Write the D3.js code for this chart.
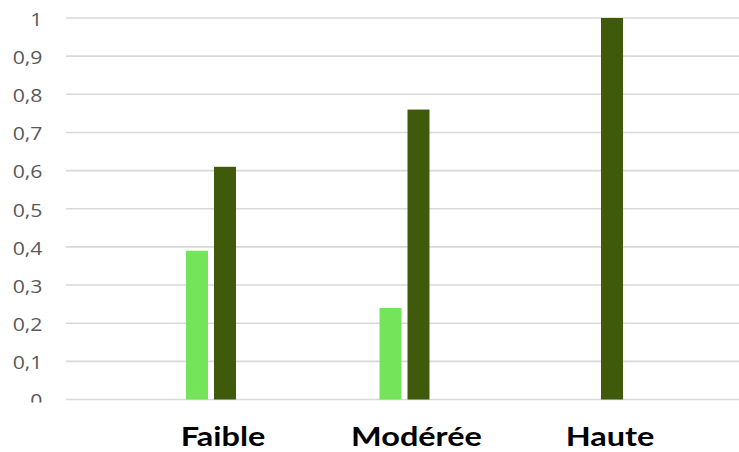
<!DOCTYPE html>
<html>
<head>
<meta charset="utf-8">
<script src="https://cdn.jsdelivr.net/npm/d3@7"></script>
<style>
  html, body { margin: 0; padding: 0; background: #fff; }
  svg { display: block; }
</style>
</head>
<body>
<svg id="chart" width="739" height="452"></svg>
<script>
// Risk levels and the share for each of the two series
const categories = ["Faible", "Modérée", "Haute"];
const seriesNames = ["Série 1", "Série 2"];
const series1 = [0.39, 0.24, 0];
const series2 = [0.61, 0.76, 1];
const yTicks = [0, 0.1, 0.2, 0.3, 0.4, 0.5, 0.6, 0.7, 0.8, 0.9, 1];
const colors = ["#74e55a", "#405a0c"];

const svg = d3.select("#chart");
const W = 739;
const stretch = 1.18; // horizontal text stretch

const y = d3.scaleLinear().domain([0, 1]).range([399.5, 18]);

const x = d3.scaleBand().domain(categories).range([114.25, 694.75]).padding(0);
const xInner = d3.scaleBand().domain(seriesNames)
  .range([x.bandwidth() / 2 - 25, x.bandwidth() / 2 + 25])
  .paddingInner(6 / 28).paddingOuter(0);

// Horizontal gridlines
svg.append("g")
  .selectAll("line")
  .data(yTicks)
  .join("line")
  .attr("x1", 66).attr("x2", W)
  .attr("y1", d => y(d)).attr("y2", d => y(d))
  .attr("stroke", "#d9d9d9")
  .attr("stroke-width", 1.6);

// Y tick labels (the bottom one is cut off by the chart area)
svg.append("defs").append("clipPath").attr("id", "yclip")
  .append("rect").attr("x", 0).attr("y", 0).attr("width", 60).attr("height", 402.5);

const yAxis = d3.axisLeft(y).tickValues(yTicks).tickSize(0).tickPadding(0)
  .tickFormat(d => d3.format("~g")(d).replace(".", ","));
const yg = svg.append("g")
  .attr("clip-path", "url(#yclip)")
  .append("g")
  .attr("transform", "translate(42.5,1)")
  .call(yAxis);
yg.select(".domain").remove();
yg.selectAll(".tick text")
  .attr("x", 0)
  .attr("dy", "0.35em")
  .attr("font-family", "'Open Sans', sans-serif")
  .attr("font-size", 18)
  .attr("fill", "#595959")
  .attr("text-anchor", "end")
  .attr("transform", `scale(${stretch},1)`);

// Bars
const rows = categories.map((c, i) => ({ cat: c, vals: [series1[i], series2[i]] }));
const groups = svg.append("g").selectAll("g")
  .data(rows).join("g")
  .attr("transform", d => `translate(${x(d.cat)},0)`);
groups.selectAll("rect")
  .data(d => d.vals.map((v, j) => ({ key: seriesNames[j], v, j })))
  .join("rect")
  .filter(d => d.v > 0)
  .attr("x", d => xInner(d.key))
  .attr("width", xInner.bandwidth())
  .attr("y", d => y(d.v))
  .attr("height", d => y(0) - y(d.v))
  .attr("fill", d => colors[d.j]);

// Category labels
svg.append("g").selectAll("text")
  .data(categories).join("text")
  .attr("x", 0).attr("y", 0)
  .attr("transform", d => `translate(${x(d) + x.bandwidth() / 2 + 12},445.5) scale(${stretch},1)`)
  .attr("text-anchor", "middle")
  .attr("font-family", "Lato, 'Open Sans', sans-serif")
  .attr("font-weight", "bold")
  .attr("font-size", 27.5)
  .attr("fill", "#000")
  .text(d => d);
</script>
</body>
</html>
